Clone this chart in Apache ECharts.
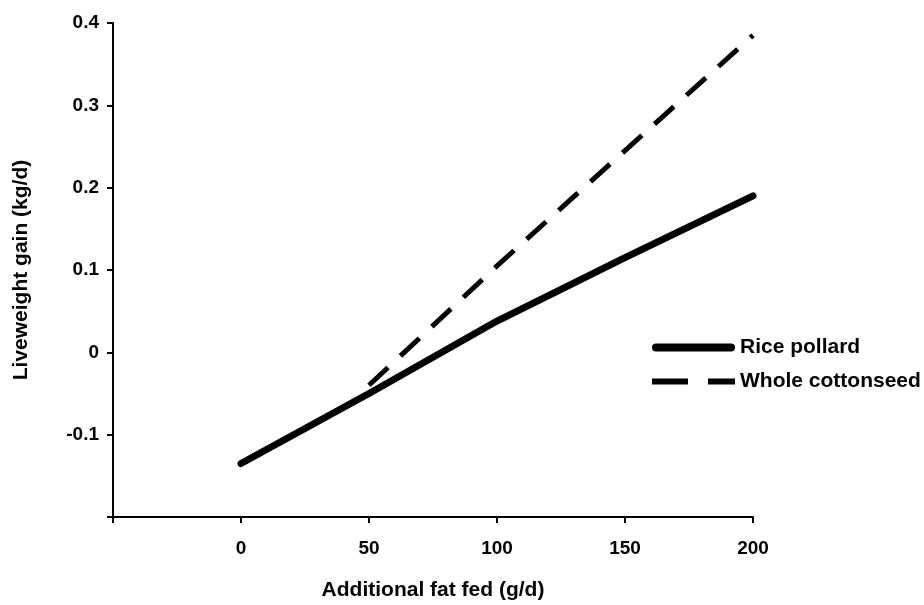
<!DOCTYPE html>
<html>
<head>
<meta charset="utf-8">
<script src="https://cdn.jsdelivr.net/npm/echarts@6/dist/echarts.min.js"></script>
<style>html,body{margin:0;padding:0;background:#fff;}#c{width:924px;height:605px;}</style>
</head>
<body>
<div id="c"></div>
<script>
const seriesNames = ['Rice pollard', 'Whole cottonseed'];
const riceX = [0, 50, 100, 150, 200];
const riceY = [-0.135, -0.05, 0.038, 0.115, 0.19];
const cottonX = [50, 100, 150, 200];
const cottonY = [-0.04, 0.105, 0.245, 0.385];
const xTicks = [-50, 0, 50, 100, 150, 200];
const yTicks = [-0.2, -0.1, 0, 0.1, 0.2, 0.3, 0.4];
const xTitle = 'Additional fat fed (g/d)';
const yTitle = 'Liveweight gain (kg/d)';

const FONT = '"Liberation Sans", Arial, sans-serif';
const chart = echarts.init(document.getElementById('c'), null, {renderer: 'canvas'});
const pairs = (xs, ys) => xs.map((x, i) => [x, ys[i]]);
chart.setOption({
  animation: false,
  backgroundColor: '#fff',
  grid: {left: 113, right: 171, top: 23, bottom: 88, outerBoundsMode: 'none', containLabel: false},
  legend: {
    left: 652, top: 337, orient: 'vertical', padding: 0,
    itemWidth: 83, itemHeight: 8, itemGap: 13,
    textStyle: {fontFamily: FONT, fontWeight: 'bold', fontSize: 21, color: '#000'},
    data: [
      {name: seriesNames[0], icon: 'path://M4,0H79A4,4 0 0 1 79,8H4A4,4 0 0 1 4,0Z', itemStyle: {color: '#000'}},
      {name: seriesNames[1], icon: 'path://M0,1H36V7H0Z M56,1H83V7H56Z M0,0H0.01V8H0Z M82.99,0H83V8H82.99Z', itemStyle: {color: '#000'}}
    ]
  },
  xAxis: {
    type: 'value', min: xTicks[0], max: xTicks[xTicks.length - 1], interval: 50,
    splitLine: {show: false},
    axisLine: {onZero: false, lineStyle: {color: '#000', width: 2}},
    axisTick: {inside: false, length: 6, lineStyle: {color: '#000', width: 2}},
    axisLabel: {margin: 22, fontFamily: FONT, fontWeight: 'bold', fontSize: 19, color: '#000',
      formatter: v => (v === xTicks[0] ? '' : String(v))},
    name: xTitle, nameLocation: 'middle', nameGap: 63,
    nameTextStyle: {fontFamily: FONT, fontWeight: 'bold', fontSize: 21, color: '#000'}
  },
  yAxis: {
    type: 'value', min: yTicks[0], max: yTicks[yTicks.length - 1], interval: 0.1,
    splitLine: {show: false},
    axisLine: {onZero: false, lineStyle: {color: '#000', width: 2}},
    axisTick: {inside: false, length: 6, lineStyle: {color: '#000', width: 2}},
    axisLabel: {margin: 14, fontFamily: FONT, fontWeight: 'bold', fontSize: 19, color: '#000',
      formatter: v => {
        const r = Math.round(v * 10) / 10;
        if (Math.abs(r - yTicks[0]) < 1e-9) return '';
        return r === 0 ? '0' : String(r);
      }},
    name: yTitle, nameLocation: 'middle', nameGap: 81, nameRotate: 90,
    nameTextStyle: {fontFamily: FONT, fontWeight: 'bold', fontSize: 21, color: '#000'}
  },
  series: [
    {name: seriesNames[0], type: 'line', data: pairs(riceX, riceY), showSymbol: false, symbol: 'none',
      lineStyle: {width: 7, color: '#000', cap: 'round', join: 'round'}, itemStyle: {color: '#000'}},
    {name: seriesNames[1], type: 'line', data: pairs(cottonX, cottonY), showSymbol: false, symbol: 'none',
      lineStyle: {width: 5, color: '#000', type: [26, 17]}, itemStyle: {color: '#000'}}
  ]
});
</script>
</body>
</html>
